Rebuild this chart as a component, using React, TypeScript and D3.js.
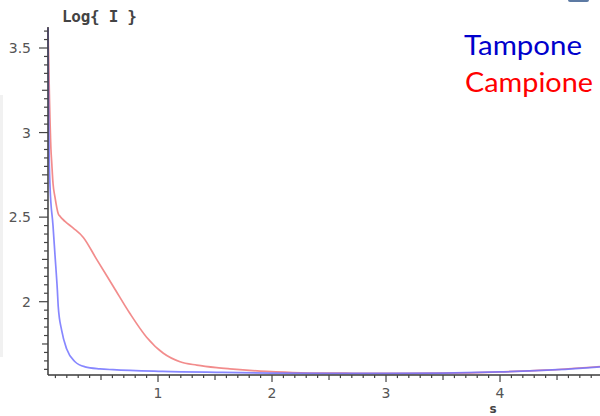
import React from "react";
import * as d3 from "d3";

const tamponeS = [0.035, 0.04, 0.044, 0.053, 0.079, 0.096, 0.117, 0.125, 0.155, 0.199, 0.272, 0.36, 0.49, 0.605, 1.04, 1.57, 2.0, 2.5, 3.0, 3.5, 4.0, 4.5, 4.877];
const tamponeV = [3.62, 3.2, 2.92, 2.68, 2.45, 2.28, 2.07, 1.97, 1.83, 1.72, 1.645, 1.615, 1.603, 1.598, 1.588, 1.582, 1.578, 1.576, 1.576, 1.578, 1.585, 1.598, 1.615];

const campioneS = [0.035, 0.048, 0.061, 0.068, 0.079, 0.096, 0.125, 0.14, 0.184, 0.257, 0.345, 0.462, 0.608, 0.754, 0.9, 1.047, 1.193, 1.34, 1.515, 1.63, 1.95, 2.25, 2.7, 3.2, 3.7, 4.0, 4.4, 4.877];
const campioneV = [3.62, 3.2, 2.9, 2.82, 2.7, 2.62, 2.52, 2.505, 2.475, 2.435, 2.38, 2.25, 2.09, 1.93, 1.79, 1.695, 1.645, 1.625, 1.61, 1.603, 1.588, 1.58, 1.577, 1.576, 1.579, 1.585, 1.595, 1.617];

const yMajor = [2, 2.5, 3, 3.5];
const yMajorLabels = ["2", "2.5", "3", "3.5"];
const xMajor = [1, 2, 3, 4];
const xMajorLabels = ["1", "2", "3", "4"];
const legendNames = ["Tampone", "Campione"];
const legendColors = ["#0000cc", "#ff0000"];

export default function App() {
  const x = d3.scaleLinear().domain([0, 4.877]).range([44, 600]);
  const y = d3.scaleLinear().domain([2, 3.5]).range([301.7, 48]);
  const axisX = x(0.035);
  const axisY = y(1.566);
  const topY = y(3.624);

  const line = d3
    .line<[number, number]>()
    .x((d) => x(d[0]))
    .y((d) => y(d[1]))
    .curve(d3.curveMonotoneX);

  const tampone = tamponeS.map((s, i) => [s, tamponeV[i]] as [number, number]);
  const campione = campioneS.map((s, i) => [s, campioneV[i]] as [number, number]);

  const yTicks: { v: number; len: number }[] = [];
  for (let k = 32; k <= 72; k++) {
    const v = k * 0.05;
    if (v < 1.566 || v > 3.624) continue;
    const isMajor = k % 10 === 0;
    const isMed = k % 5 === 0;
    yTicks.push({ v, len: isMajor ? 9 : isMed ? 6 : 4 });
  }
  const xTicks: { v: number; len: number }[] = [];
  for (let k = 1; k <= 48; k++) {
    const v = k * 0.1;
    if (v < 0.035) continue;
    const isMajor = k % 10 === 0;
    const isMed = k % 5 === 0;
    xTicks.push({ v, len: isMajor ? 7 : isMed ? 5 : 3 });
  }

  return (
    <svg
      width={600}
      height={416}
      style={{ position: "absolute", left: 0, top: 0, background: "#fff" }}
    >
      <rect x={0} y={95} width={3} height={262} fill="#f1f1f1" />
      <rect x={568} y={-6} width={21} height={8} rx={2} fill="#5d7aa3" />

      <path d={line(campione) || ""} fill="none" stroke="#f07878" strokeWidth={1.7} strokeOpacity={0.85} />
      <path d={line(tampone) || ""} fill="none" stroke="#7272ff" strokeWidth={1.7} strokeOpacity={0.85} />

      <line x1={axisX} x2={axisX} y1={topY} y2={axisY} stroke="#3a3a3a" strokeWidth={1.5} />
      <line x1={axisX} x2={600} y1={axisY} y2={axisY} stroke="#3a3a3a" strokeWidth={1.5} />

      {yTicks.map((t, i) => (
        <line key={"yt" + i} x1={axisX - t.len} x2={axisX} y1={y(t.v)} y2={y(t.v)} stroke="#444" strokeWidth={1.2} />
      ))}
      {xTicks.map((t, i) => (
        <line key={"xt" + i} x1={x(t.v)} x2={x(t.v)} y1={axisY} y2={axisY + t.len} stroke="#444" strokeWidth={1.2} />
      ))}

      {yMajor.map((v, i) => (
        <text key={"yl" + i} x={31} y={y(v)} dy="0.36em" textAnchor="end" fontFamily="DejaVu Sans" fontSize={14} fill="#555">
          {yMajorLabels[i]}
        </text>
      ))}
      {xMajor.map((v, i) => (
        <text key={"xl" + i} x={x(v)} y={398} textAnchor="middle" fontFamily="DejaVu Sans" fontSize={14} fill="#555">
          {xMajorLabels[i]}
        </text>
      ))}

      <text x={62} y={22} fontFamily="DejaVu Sans Mono" fontWeight="bold" fontSize={16} fill="#444" textLength={75} lengthAdjust="spacing">
        {"Log{ I }"}
      </text>
      <text x={493} y={413} textAnchor="middle" fontFamily="DejaVu Sans" fontWeight="bold" fontSize={12} fill="#444">
        s
      </text>

      <text x={464} y={55} fontFamily="Lato" fontSize={26} fill={legendColors[0]} textLength={118} lengthAdjust="spacingAndGlyphs">
        {legendNames[0]}
      </text>
      <text x={465} y={92} fontFamily="Lato" fontSize={26} fill={legendColors[1]} textLength={128} lengthAdjust="spacingAndGlyphs">
        {legendNames[1]}
      </text>
    </svg>
  );
}
